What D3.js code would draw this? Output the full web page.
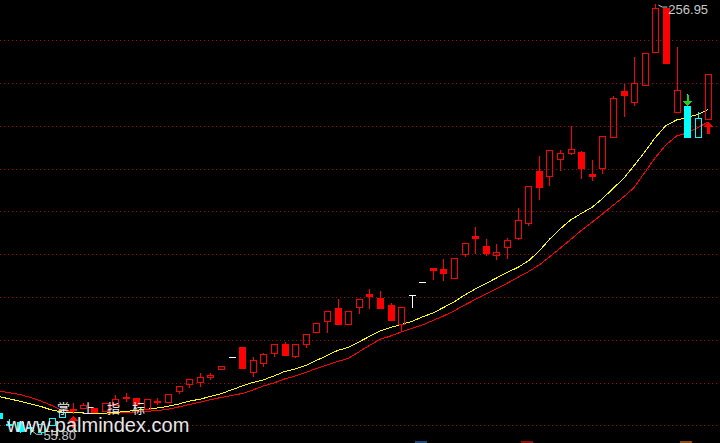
<!DOCTYPE html>
<html><head><meta charset="utf-8">
<script src="https://cdn.jsdelivr.net/npm/d3@7/dist/d3.min.js"></script>
<style>html,body{margin:0;padding:0;background:#000;overflow:hidden}</style>
</head><body>
<svg id="c" width="720" height="443" xmlns="http://www.w3.org/2000/svg"></svg>
<script>
// ---- data ----
const openP  = [65.90,60.39,61.55,58.98,56.88,60.15,63.75,67.63,67.96,68.24,66.84,69.50,73.10,72.77,67.63,71.37,71.05,76.19,79.32,80.40,82.45,86.19,91.80,96.48,84.79,89.00,93.67,98.02,92.41,97.88,103.77,108.91,114.85,107.60,115.46,121.39,119.52,116.25,107.51,120.79,126.86,133.55,133.08,129.02,139.95,148.51,143.83,139.77,143.51,147.72,154.73,178.90,176.79,184.65,187.45,187.78,177.49,180.44,194.93,216.30,211.39,218.96,234.39,254.96,206.34,209.28,194.93,203.07];
const highP  = [66.70,62.96,62.02,60.62,61.09,63.28,66.37,70.30,70.44,68.24,70.58,74.18,75.25,72.77,72.31,72.92,74.50,78.38,81.52,84.60,84.60,87.59,91.80,96.48,91.80,93.95,97.88,98.81,98.02,102.69,107.84,113.31,119.06,113.35,119.06,123.73,122.80,117.19,115.18,120.79,126.86,133.55,137.76,138.22,145.10,152.86,147.11,144.77,147.43,161.74,171.88,185.91,188.71,188.71,199.93,188.25,184.04,195.26,213.96,219.57,232.19,233.92,256.95,254.96,236.87,214.80,206.25,224.24];
const lowP   = [62.96,59.68,56.88,55.80,56.41,60.15,63.75,65.62,67.96,66.23,66.84,69.50,71.37,69.97,67.63,69.83,71.05,74.97,78.06,78.53,81.52,86.19,91.80,86.94,83.20,87.73,92.41,92.88,91.80,96.76,103.77,103.77,107.51,107.60,112.51,115.08,114.99,109.38,104.56,115.46,126.86,128.41,127.94,129.02,139.30,140.70,139.63,137.62,138.37,146.97,153.65,165.67,172.49,179.36,186.99,175.48,174.92,177.82,194.93,204.61,209.89,218.96,234.39,229.25,206.34,194.93,194.93,203.07];
const closeP = [63.28,59.92,57.35,58.52,60.62,63.28,66.37,67.16,69.50,66.23,70.58,72.31,72.63,69.97,72.31,70.90,74.50,78.38,81.52,82.45,83.67,87.59,91.80,86.94,90.54,93.20,97.88,92.88,98.02,102.69,107.84,113.31,107.51,113.35,119.06,120.46,114.99,109.38,115.18,120.79,126.86,132.61,131.21,138.22,145.10,147.72,140.42,141.03,146.50,155.99,171.88,171.56,188.71,187.31,189.04,180.44,176.56,195.26,212.93,214.57,219.94,233.92,255.10,229.25,216.76,194.93,203.53,224.24];
const maFast = [73.48,72.40,71.28,70.06,68.80,67.16,66.23,65.90,65.76,65.67,65.67,66.00,66.46,67.02,67.49,68.10,68.89,69.97,71.28,72.21,73.48,74.74,76.61,78.38,80.02,81.28,83.06,85.16,86.33,87.97,90.31,92.64,94.98,96.38,98.95,101.53,104.10,105.73,107.14,108.54,110.64,112.51,115.08,117.65,120.93,123.73,126.30,128.87,131.45,133.78,136.82,141.26,146.97,151.78,155.99,159.03,161.83,165.90,170.72,175.39,181.47,187.78,194.56,200.17,202.74,203.91,205.31,207.65];
const maSlow = [76.05,75.25,74.41,73.01,71.37,69.27,66.93,66.23,65.76,65.62,65.62,65.67,65.90,66.23,66.56,66.93,67.49,68.57,69.74,70.76,71.98,73.01,73.94,74.88,76.51,78.38,79.79,81.66,83.06,84.70,86.57,88.20,89.84,91.24,94.28,97.32,100.12,101.76,103.63,105.27,106.90,109.01,111.11,113.45,116.25,118.82,121.39,123.87,126.40,129.11,131.82,134.81,138.69,142.76,146.87,151.08,154.82,158.79,162.77,166.74,171.18,178.20,185.21,191.05,195.26,196.66,199.23,201.80];
const buyIdx  = [7, 67];
const sellIdx = [65];
const gridTicks = [60,80,100,120,140,160,180,200,220,240];
const titleText = "掌上指标";
const watermark = "www.palmindex.com";

// ---- drawing ----
const W = 720, H = 443;
const svg = d3.select('#c');
svg.append('rect').attr('width', W).attr('height', H).attr('fill', '#000');

const n = closeP.length;
const x = d3.scaleLinear().domain([0, n - 1]).range([-1.4, 708.3]);
const y = d3.scaleLinear().domain([d3.min(lowP), d3.max(highP)]).range([434.3, 4.05]);

// grid
svg.append('g').selectAll('line').data(gridTicks).join('line')
  .attr('x1', 0).attr('x2', W)
  .attr('y1', d => Math.round(y(d)) + 0.5).attr('y2', d => Math.round(y(d)) + 0.5)
  .attr('stroke', '#b40000').attr('stroke-width', 1)
  .attr('stroke-dasharray', '1,3').attr('shape-rendering', 'crispEdges');

// moving averages
const line = d3.line().x((d, i) => x(i)).y(d => y(d));
svg.append('path').datum(maSlow).attr('d', line).attr('fill', 'none')
  .attr('stroke', '#ff0000').attr('stroke-width', 1).attr('shape-rendering', 'crispEdges');
svg.append('path').datum(maFast).attr('d', line).attr('fill', 'none')
  .attr('stroke', '#ffff00').attr('stroke-width', 1).attr('shape-rendering', 'crispEdges');

// state from signals
const state = [];
let cur = (buyIdx[0] < (sellIdx[0] ?? Infinity)) ? 'sell' : 'buy';
for (let i = 0; i < n; i++) {
  if (buyIdx.includes(i)) cur = 'buy';
  if (sellIdx.includes(i)) cur = 'sell';
  state.push(cur);
}

const gC = svg.append('g').attr('shape-rendering', 'crispEdges');
for (let i = 0; i < n; i++) {
  const X = Math.round(x(i));
  const o = Math.round(y(openP[i])), c = Math.round(y(closeP[i]));
  const h = Math.round(y(highP[i])), l = Math.round(y(lowP[i]));
  const top = Math.min(o, c), bot = Math.max(o, c);
  let col = state[i] === 'buy' ? '#ff0000' : '#00ffff';
  if (openP[i] === closeP[i]) {
    col = '#ffffff';
    gC.append('rect').attr('x', X).attr('y', h).attr('width', 1).attr('height', Math.max(1, l - h + 1)).attr('fill', col);
    gC.append('rect').attr('x', X - 3).attr('y', o).attr('width', 7).attr('height', 1).attr('fill', col);
  } else if (closeP[i] > openP[i]) {
    if (h < top) gC.append('rect').attr('x', X).attr('y', h).attr('width', 1).attr('height', top - h).attr('fill', col);
    if (l > bot) gC.append('rect').attr('x', X).attr('y', bot + 1).attr('width', 1).attr('height', l - bot).attr('fill', col);
    gC.append('rect').attr('x', X - 3 + 0.5).attr('y', top + 0.5).attr('width', 6).attr('height', Math.max(1, bot - top))
      .attr('fill', 'none').attr('stroke', col).attr('stroke-width', 1);
  } else {
    gC.append('rect').attr('x', X).attr('y', h).attr('width', 1).attr('height', Math.max(1, l - h + 1)).attr('fill', col);
    gC.append('rect').attr('x', X - 3).attr('y', top).attr('width', 7).attr('height', Math.max(2, bot - top + 1)).attr('fill', col);
  }
}

// signals
const gS = svg.append('g').attr('shape-rendering', 'crispEdges');
buyIdx.forEach(i => {
  const X = Math.round(x(i)) + 0.5, t = Math.round(y(lowP[i])) + 3;
  gS.append('path').attr('d', `M${X},${t}L${X + 4.5},${t + 5}L${X - 4.5},${t + 5}Z`).attr('fill', '#ff0000');
  gS.append('rect').attr('x', X - 1.5).attr('y', t + 5).attr('width', 3).attr('height', 7).attr('fill', '#ff0000');
});
sellIdx.forEach(i => {
  const X = Math.round(x(i)) + 0.5, t = Math.round(y(Math.max(openP[i], closeP[i])));
  gS.append('path').attr('d', `M${X},${t}L${X + 5},${t - 5}L${X - 5},${t - 5}Z`).attr('fill', '#22cc22');
  gS.append('rect').attr('x', X - 1).attr('y', t - 11).attr('width', 2).attr('height', 6).attr('fill', '#22cc22');
});

// high / low labels
const iMax = d3.maxIndex(highP), iMin = d3.minIndex(lowP);
{
  const X = x(iMax), Y = y(highP[iMax]);
  svg.append('path').attr('d', `M${X + 3},${Y + 1}L${X + 7},${Y + 3}L${X + 12},${Y + 3}`)
    .attr('fill', 'none').attr('stroke', '#c8c8c8').attr('stroke-width', 1);
  svg.append('text').attr('x', X + 13).attr('y', Y + 9.5).text(highP[iMax].toFixed(2))
    .attr('fill', '#c8c8c8').attr('font-family', 'Liberation Sans, Arial, sans-serif').attr('font-size', 13);
}
{
  const X = x(iMin), Y = y(lowP[iMin]);
  svg.append('path').attr('d', `M${X + 1},${Y - 4}L${X + 6},${Y}L${X + 12},${Y}M${X + 1},${Y - 4}L${X + 1},${Y - 1}M${X + 1},${Y - 4}L${X + 4},${Y - 4}`)
    .attr('fill', 'none').attr('stroke', '#c8c8c8').attr('stroke-width', 1);
  svg.append('text').attr('x', X + 13).attr('y', Y + 5.5).text(lowP[iMin].toFixed(2))
    .attr('fill', '#c8c8c8').attr('font-family', 'Liberation Sans, Arial, sans-serif').attr('font-size', 13);
}

// title text and watermark
svg.append('text').attr('x', 57).attr('y', 412.5).text(titleText)
  .attr('fill', '#e8e8e8').attr('font-family', 'Noto Sans CJK SC, sans-serif').attr('font-size', 13)
  .attr('letter-spacing', 12);
svg.append('text').attr('x', 7).attr('y', 432).text(watermark)
  .attr('fill', '#e6e6e6').attr('font-family', 'Liberation Sans, Arial, sans-serif').attr('font-size', 20);

// bottom toolbar hints
const tb = [[415, '#1a4a7a'], [521, '#8a1010'], [680, '#8a4a10']];
svg.append('g').selectAll('rect').data(tb).join('rect')
  .attr('x', d => d[0]).attr('y', 441).attr('width', 12).attr('height', 2).attr('fill', d => d[1]);
</script>
</body></html>
